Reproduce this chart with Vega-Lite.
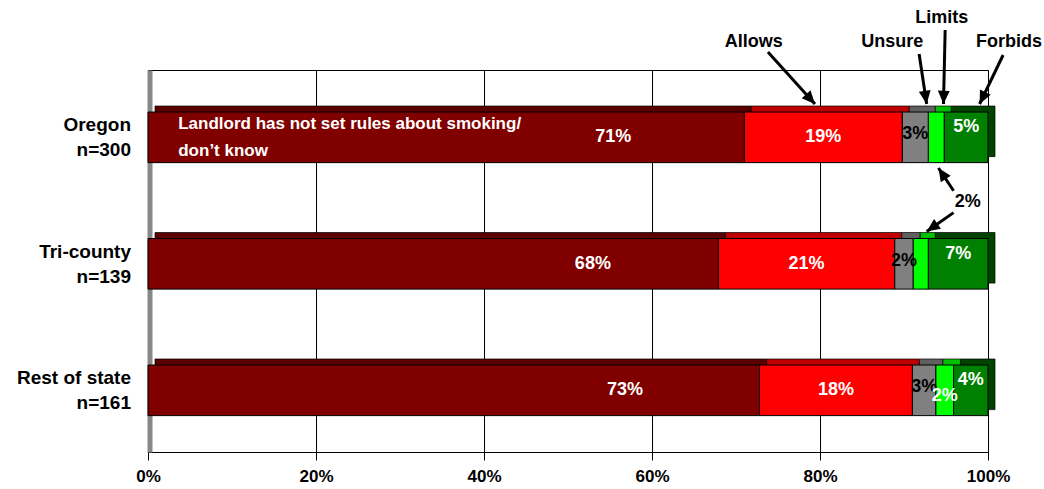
{
  "$schema": "https://vega.github.io/schema/vega-lite/v6.json",
  "width": 840,
  "height": 382,
  "autosize": {"type": "none"},
  "padding": {"left": 148, "top": 70, "right": 56, "bottom": 37},
  "background": "white",
  "config": {
    "font": "Liberation Sans",
    "view": {"stroke": "black", "strokeWidth": 1}
  },
  "datasets": {
    "arrows": [
      {"xa": 0.738, "la": -0.672, "xb": 0.794, "lb": -0.261},
      {"xa": 0.918, "la": -0.656, "xb": 0.927, "lb": -0.261},
      {"xa": 0.949, "la": -0.846, "xb": 0.947, "lb": -0.261},
      {"xa": 1.018, "la": -0.648, "xb": 0.990, "lb": -0.261},
      {"xa": 0.959, "la": 0.425, "xb": 0.941, "lb": 0.245},
      {"xa": 0.959, "la": 0.598, "xb": 0.927, "lb": 0.747}
    ]
  },
  "layer": [
    {
      "data": {
        "values": [
          {"region": "Oregon|n=300", "rule": "Not set/don't know", "pct": 0.710},
          {"region": "Oregon|n=300", "rule": "Allows", "pct": 0.188},
          {"region": "Oregon|n=300", "rule": "Unsure", "pct": 0.031},
          {"region": "Oregon|n=300", "rule": "Limits", "pct": 0.019},
          {"region": "Oregon|n=300", "rule": "Forbids", "pct": 0.052},
          {"region": "Tri-county|n=139", "rule": "Not set/don't know", "pct": 0.679},
          {"region": "Tri-county|n=139", "rule": "Allows", "pct": 0.210},
          {"region": "Tri-county|n=139", "rule": "Unsure", "pct": 0.022},
          {"region": "Tri-county|n=139", "rule": "Limits", "pct": 0.018},
          {"region": "Tri-county|n=139", "rule": "Forbids", "pct": 0.071},
          {"region": "Rest of state|n=161", "rule": "Not set/don't know", "pct": 0.728},
          {"region": "Rest of state|n=161", "rule": "Allows", "pct": 0.182},
          {"region": "Rest of state|n=161", "rule": "Unsure", "pct": 0.028},
          {"region": "Rest of state|n=161", "rule": "Limits", "pct": 0.021},
          {"region": "Rest of state|n=161", "rule": "Forbids", "pct": 0.041}
        ]
      },
      "transform": [
        {"window": [{"op": "row_number", "as": "idx"}], "groupby": ["region"]}
      ],
      "layer": [
        {
          "mark": {"type": "bar", "xOffset": 7, "x2Offset": 7, "yOffset": -6, "y2Offset": -6, "stroke": "black", "strokeWidth": 0.7},
          "encoding": {
            "y": {"field": "region", "type": "nominal", "sort": null,
                  "scale": {"paddingInner": 0.6, "paddingOuter": 0.31, "align": 0.536},
                  "axis": {"title": null, "labelExpr": "split(datum.value, '|')", "labelFontSize": 19, "labelFontWeight": "bold", "labelColor": "black", "labelLineHeight": 25, "labelOffset": -12, "ticks": false, "tickSize": 0, "labelPadding": 19, "domainColor": "#888888", "domainWidth": 5, "offset": -1.5, "labelLimit": 300}},
            "x": {"field": "pct", "type": "quantitative", "stack": "zero",
                  "scale": {"domain": [0, 1], "nice": false},
                  "axis": {"title": null, "values": [0, 0.2, 0.4, 0.6, 0.8, 1], "format": ".0%", "labelFontSize": 17, "labelFontWeight": "bold", "labelColor": "black", "labelFlush": false, "labelOverlap": false, "labelPadding": 8, "tickSize": 8, "tickColor": "black", "domainColor": "black", "grid": true, "gridColor": "black", "gridOpacity": 1, "gridWidth": 1}},
            "fill": {"field": "rule", "type": "nominal",
                     "scale": {"domain": ["Not set/don't know", "Allows", "Unsure", "Limits", "Forbids"], "range": ["#5a0000", "#c00000", "#606060", "#00c000", "#004400"]},
                     "legend": null},
            "order": {"field": "idx"}
          }
        },
        {
          "mark": {"type": "bar", "stroke": "black", "strokeWidth": 1},
          "encoding": {
            "y": {"field": "region", "type": "nominal", "sort": null,
                  "scale": {"paddingInner": 0.6, "paddingOuter": 0.31, "align": 0.536}},
            "x": {"field": "pct", "type": "quantitative", "stack": "zero",
                  "scale": {"domain": [0, 1], "nice": false}},
            "color": {"field": "rule", "type": "nominal",
                      "scale": {"domain": ["Not set/don't know", "Allows", "Unsure", "Limits", "Forbids"], "range": ["#800000", "#ff0000", "#808080", "#00ff00", "#008000"]},
                      "legend": null},
            "order": {"field": "idx"}
          }
        },
        {
          "mark": {"type": "text", "fontSize": 18, "fontWeight": "bold", "align": "center", "baseline": "middle",
                   "yOffset": {"expr": "datum.rule === 'Forbids' ? -10 : (datum.rule === 'Limits' ? 6 : (datum.rule === 'Unsure' ? -3 : 0))"}},
          "encoding": {
            "y": {"field": "region", "type": "nominal", "sort": null,
                  "scale": {"paddingInner": 0.6, "paddingOuter": 0.31, "align": 0.536}},
            "x": {"field": "pct", "type": "quantitative", "stack": "zero", "bandPosition": 0.5,
                  "scale": {"domain": [0, 1], "nice": false}},
            "detail": {"field": "rule", "type": "nominal"},
            "order": {"field": "idx"},
            "text": {"condition": {"test": "datum.rule === \"Not set/don't know\" || (datum.rule === 'Limits' && datum.region !== 'Rest of state|n=161')", "value": ""},
                     "field": "pct", "type": "quantitative", "format": ".0%"},
            "color": {"condition": {"test": "datum.rule === 'Unsure'", "value": "black"}, "value": "white"}
          }
        },
        {
          "mark": {"type": "text", "fontSize": 18, "fontWeight": "bold", "align": "center", "baseline": "middle", "color": "white"},
          "encoding": {
            "y": {"field": "region", "type": "nominal", "sort": null,
                  "scale": {"paddingInner": 0.6, "paddingOuter": 0.31, "align": 0.536}},
            "x": {"field": "pct", "type": "quantitative", "stack": "zero", "bandPosition": 0.78,
                  "scale": {"domain": [0, 1], "nice": false}},
            "detail": {"field": "rule", "type": "nominal"},
            "order": {"field": "idx"},
            "text": {"condition": {"test": "datum.rule !== \"Not set/don't know\"", "value": ""},
                     "field": "pct", "type": "quantitative", "format": ".0%"}
          }
        }
      ]
    },
    {
      "layer": [
        {
          "data": {"values": [{"text": "Landlord has not set rules about smoking/\ndon’t know", "x": 0.036, "lvl": -0.103}]},
          "mark": {"type": "text", "align": "left", "baseline": "middle", "fontSize": 17, "fontWeight": "bold", "color": "white", "lineBreak": "\n", "lineHeight": 27},
          "encoding": {
            "x": {"field": "x", "type": "quantitative", "scale": {"domain": [0, 1], "nice": false}},
            "y": {"field": "lvl", "type": "quantitative", "scale": {"domain": [-0.5296, 2.4901], "reverse": true, "nice": false, "zero": false}, "axis": null},
            "text": {"field": "text"}
          }
        },
        {
          "data": {"values": [
            {"text": "Allows", "x": 0.721, "lvl": -0.751},
            {"text": "Unsure", "x": 0.886, "lvl": -0.751},
            {"text": "Limits", "x": 0.945, "lvl": -0.937},
            {"text": "Forbids", "x": 1.025, "lvl": -0.751},
            {"text": "2%", "x": 0.976, "lvl": 0.514}
          ]},
          "mark": {"type": "text", "align": "center", "baseline": "middle", "fontSize": 18, "fontWeight": "bold", "color": "black"},
          "encoding": {
            "x": {"field": "x", "type": "quantitative", "scale": {"domain": [0, 1], "nice": false}},
            "y": {"field": "lvl", "type": "quantitative", "scale": {"domain": [-0.5296, 2.4901], "reverse": true, "nice": false, "zero": false}, "axis": null},
            "text": {"field": "text"}
          }
        },
        {
          "data": {"name": "arrows"},
          "mark": {"type": "rule", "color": "black", "strokeWidth": 3},
          "encoding": {
            "x": {"field": "xa", "type": "quantitative", "scale": {"domain": [0, 1], "nice": false}},
            "x2": {"field": "xb"},
            "y": {"field": "la", "type": "quantitative", "scale": {"domain": [-0.5296, 2.4901], "reverse": true, "nice": false, "zero": false}, "axis": null},
            "y2": {"field": "lb"}
          }
        },
        {
          "data": {"name": "arrows"},
          "mark": {"type": "point", "shape": "M0,0L-0.45,-1L0.45,-1Z", "size": 700, "filled": true, "color": "black", "opacity": 1, "strokeWidth": 0,
                   "angle": {"expr": "atan2(-(datum.xb - datum.xa) * 840, (datum.lb - datum.la) * 126.5) * 180 / PI"}},
          "encoding": {
            "x": {"field": "xb", "type": "quantitative", "scale": {"domain": [0, 1], "nice": false}},
            "y": {"field": "lb", "type": "quantitative", "scale": {"domain": [-0.5296, 2.4901], "reverse": true, "nice": false, "zero": false}, "axis": null}
          }
        }
      ]
    }
  ],
  "resolve": {"scale": {"y": "independent"}}
}
